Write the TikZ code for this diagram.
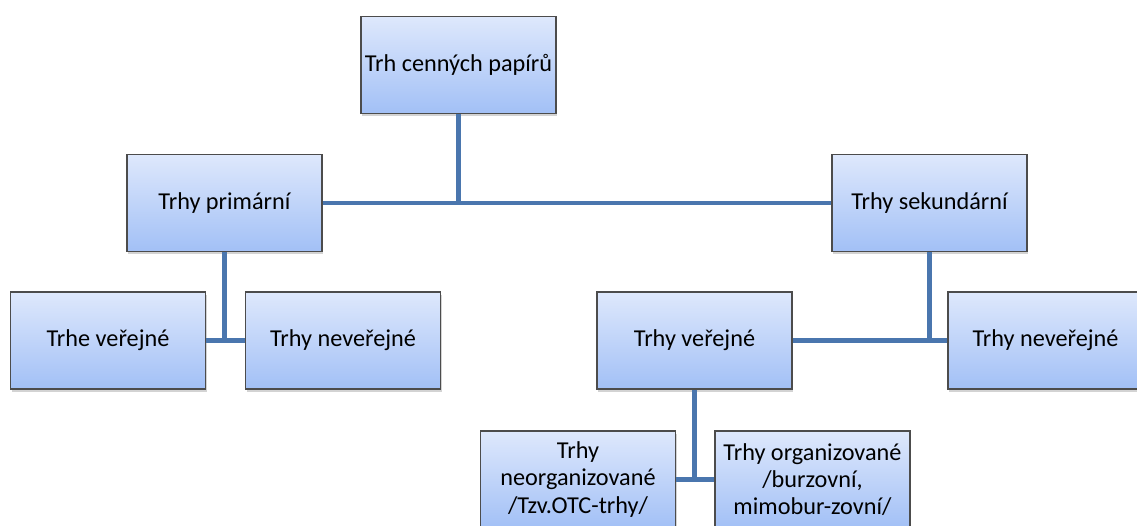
\documentclass[tikz,border=0pt]{standalone}
\usepackage{fontspec}
\setmainfont{Carlito}
\usetikzlibrary{shadows}
\definecolor{boxtop}{RGB}{222,232,252}
\definecolor{boxbot}{RGB}{162,192,246}
\definecolor{linkblue}{RGB}{74,118,174}
\tikzset{
  market/.style={draw=black!70,line width=0.6pt,top color=boxtop,bottom color=boxbot,
    minimum width=3.9cm,minimum height=1.94cm,align=center,inner sep=2pt,
    font=\fontsize{13.8}{15.6}\selectfont,
    drop shadow={opacity=0.35,shadow xshift=0.6pt,shadow yshift=-1.6pt}},
  link/.style={draw=linkblue,line width=2.3pt}
}
\begin{document}
\begin{tikzpicture}[x=0.02cm,y=-0.02cm]
    \clip (0,0) rectangle (1137,525);
    % tree nodes
    \node[market] (trh) at (458.5,65) {Trh cenných papírů};
    \node[market] (prim) at (224.5,203) {Trhy primární};
    \node[market] (sek) at (929.5,203) {Trhy sekundární};
    \node[market] (verejA) at (108,340.5) {Trhe veřejné};
    \node[market] (neverejA) at (343,340.5) {Trhy neveřejné};
    \node[market] (verejB) at (694.5,340.5) {Trhy veřejné};
    \node[market] (neverejB) at (1045.5,340.5) {Trhy neveřejné};
    \node[market] (neorg) at (578,479.5) {Trhy\\neorganizované\\/Tzv.OTC-trhy/};
    \node[market] (org) at (812.5,479.5) {Trhy organizované\\/burzovní,\\mimobur-zovní/};
    % connectors
    \draw[link] (prim.east) -- (sek.west);
    \draw[link] (trh.south) -- (trh.south |- prim.east);
    \draw[link] (verejA.east) -- (neverejA.west);
    \draw[link] (prim.south) -- (prim.south |- verejA.east);
    \draw[link] (verejB.east) -- (neverejB.west);
    \draw[link] (sek.south) -- (sek.south |- verejB.east);
    \draw[link] (neorg.east) -- (org.west);
    \draw[link] (verejB.south) -- (verejB.south |- neorg.east);
  \end{tikzpicture}
\end{document}
